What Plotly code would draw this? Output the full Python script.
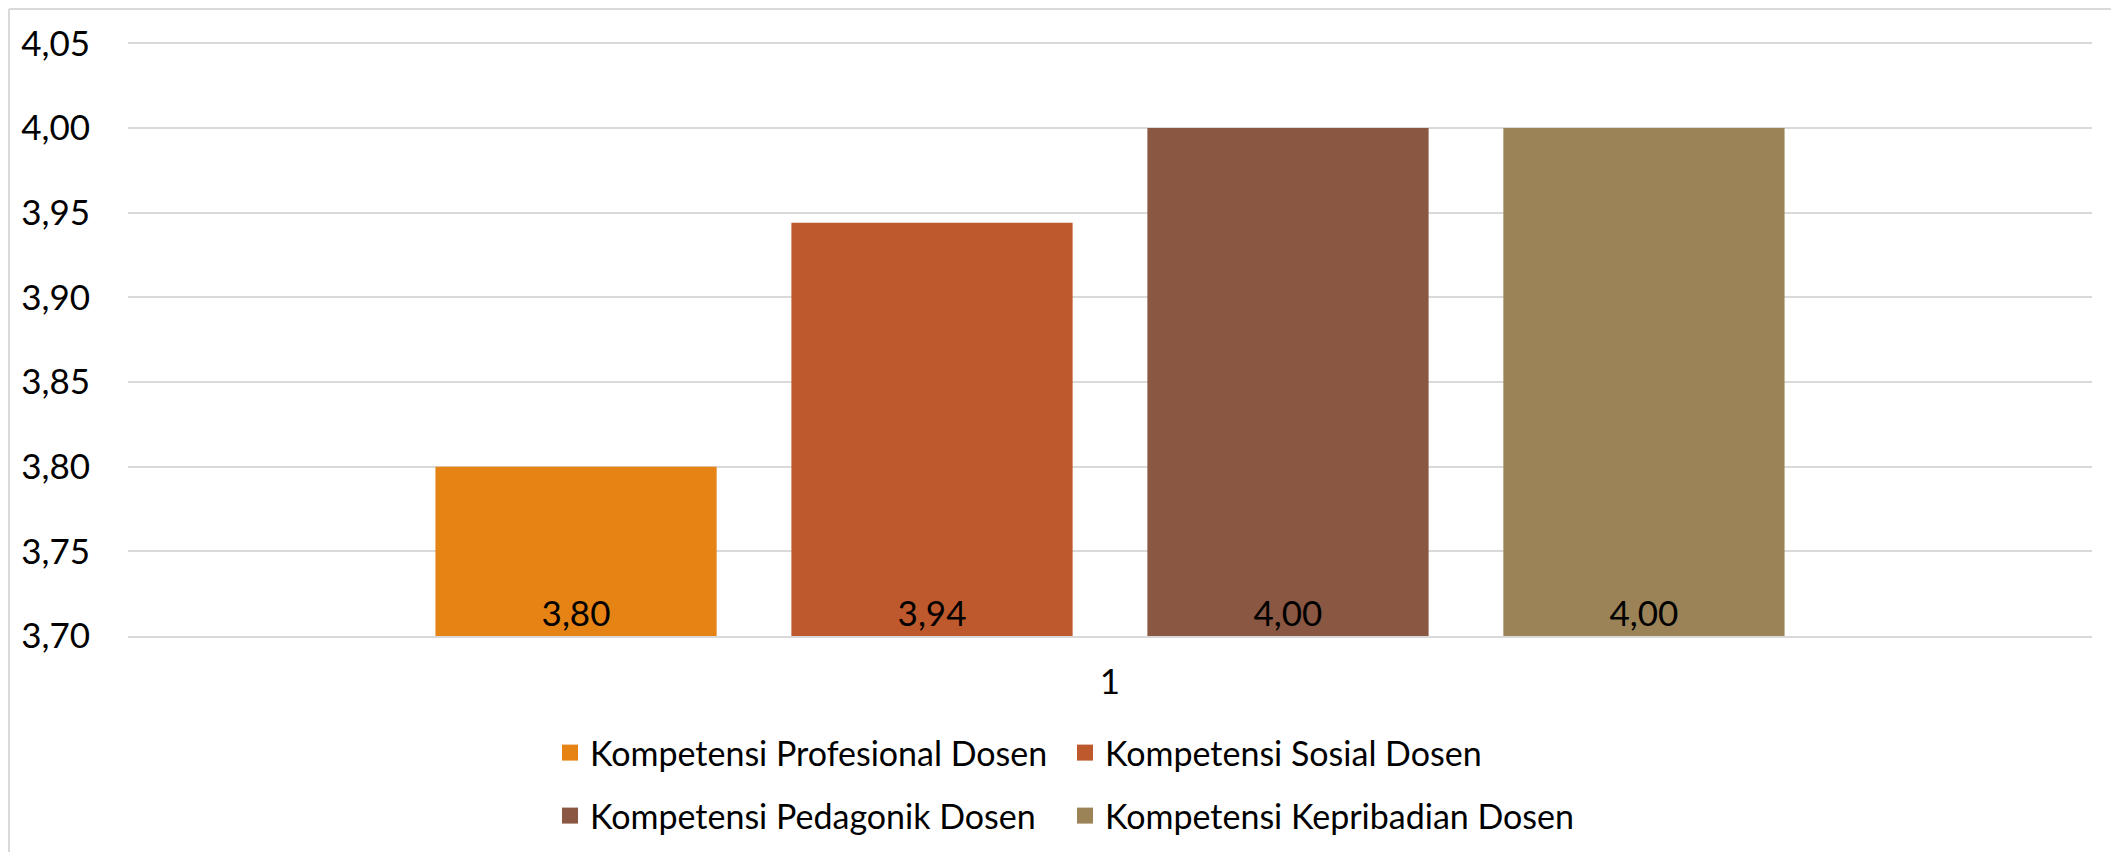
import plotly.graph_objects as go

# data
category = ["1"]
series_names = [
    "Kompetensi Profesional Dosen",
    "Kompetensi Sosial Dosen",
    "Kompetensi Pedagonik Dosen",
    "Kompetensi Kepribadian Dosen",
]
series_values = [3.80, 3.944, 4.00, 4.00]
series_colors = ["#E58315", "#BD592D", "#895742", "#9B8357"]
legend_ids = ["legend", "legend", "legend2", "legend2"]

Y_MIN, Y_MAX = 3.70, 4.05

FONT = "Lato"
GRID = "#D9D9D9"

fig = go.Figure()
for name, val, col, lg in zip(series_names, series_values, series_colors, legend_ids):
    # bars start at the axis floor so the value label sits at the bottom
    fig.add_trace(go.Bar(
        x=category, y=[val - Y_MIN], base=[Y_MIN], name=name,
        marker=dict(color=col, line=dict(width=0)),
        customdata=[val], texttemplate="%{customdata:.2f}",
        textposition="inside", insidetextanchor="start",
        textfont=dict(color="black", size=35, family=FONT),
        showlegend=False, hoverinfo="skip",
    ))
    # legend swatch
    fig.add_trace(go.Scatter(
        x=[None], y=[None], mode="markers", name=name,
        marker=dict(symbol="square", size=16, color=col),
        legend=lg, showlegend=True,
    ))

# page has an 8px body margin, so the figure is 8px smaller than the window
W, H = 2111, 844
ml, mr, mt, mb = 120, 27, 32, 216
pw, ph = W - ml - mr, H - mt - mb

def px_x(x):
    return (x - ml) / pw

def px_y(y):
    return (H - mb - y) / ph

leg_common = dict(
    orientation="h", xanchor="left", yanchor="middle",
    font=dict(size=34, family=FONT, color="black"),
    entrywidth=470, bgcolor="rgba(0,0,0,0)", itemsizing="trace",
)

fig.update_layout(
    width=W, height=H,
    margin=dict(l=ml, r=mr, t=mt, b=mb, autoexpand=False),
    paper_bgcolor="white", plot_bgcolor="white",
    separators=", ",
    barmode="group", bargap=0.275, bargroupgap=0.21,
    font=dict(family=FONT, size=34, color="black"),
    legend=dict(x=px_x(542), y=px_y(745), **leg_common),
    legend2=dict(x=px_x(542), y=px_y(808), **leg_common),
    shapes=[
        dict(type="line", xref="paper", yref="paper",
             x0=px_x(1), x1=px_x(2140), y0=px_y(1), y1=px_y(1),
             line=dict(color=GRID, width=2)),
        dict(type="line", xref="paper", yref="paper",
             x0=px_x(1), x1=px_x(1), y0=px_y(1), y1=px_y(870),
             line=dict(color=GRID, width=2)),
    ],
)

fig.update_yaxes(
    range=[Y_MIN, Y_MAX + 0.002], dtick=0.05, tick0=Y_MIN, tickformat=".2f",
    showgrid=True, gridcolor=GRID, gridwidth=2,
    zeroline=False, showline=False, ticks="",
    ticklabelstandoff=37,
    tickfont=dict(size=35, family=FONT, color="black"),
)
fig.update_xaxes(
    type="category", showgrid=False, zeroline=False,
    showline=True, linecolor=GRID, linewidth=2, ticks="",
    ticklabelstandoff=14,
    tickfont=dict(size=35, family=FONT, color="black"),
)

fig.write_html("out.html")
